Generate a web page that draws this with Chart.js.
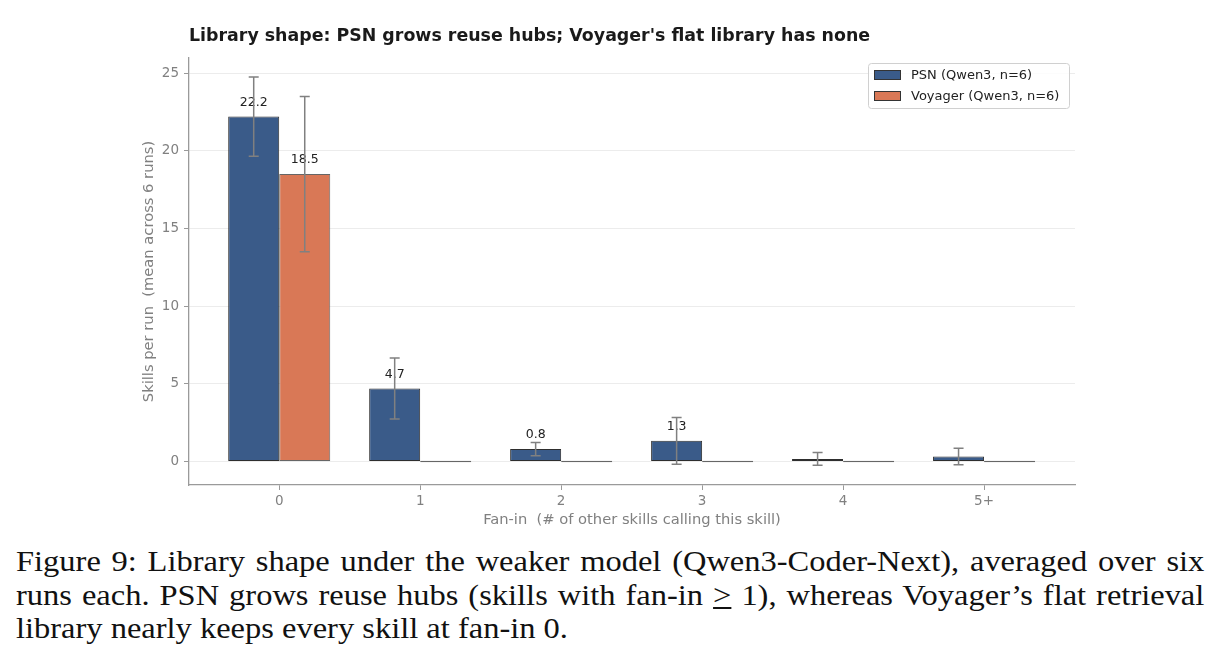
<!DOCTYPE html>
<html>
<head>
<meta charset="utf-8">
<script src="https://cdn.jsdelivr.net/npm/chart.js@4"></script>
<style>
  html, body { margin: 0; padding: 0; background: #fff; }
  #wrap { position: relative; width: 1219px; height: 662px; overflow: hidden; }
  #box { position: absolute; left: 0; top: 0; width: 1219px; height: 535px; }
  #caption {
    position: absolute; left: 16px; top: 545px; width: 1061px;
    transform: scaleX(1.12); transform-origin: 0 0;
    font-family: "Liberation Serif", "DejaVu Serif", serif;
    font-size: 29px; line-height: 33.5px; color: #111;
  }
  #caption .j { text-align: justify; text-align-last: justify; white-space: nowrap; }
</style>
</head>
<body>
<div id="wrap">
  <div id="box"><canvas id="chart"></canvas></div>
  <div id="caption">
    <div class="j">Figure 9: Library shape under the weaker model (Qwen3-Coder-Next), averaged over six</div>
    <div class="j">runs each. PSN grows reuse hubs (skills with fan-in <u>&gt;</u> 1), whereas Voyager’s flat retrieval</div>
    <div>library nearly keeps every skill at fan-in 0.</div>
  </div>
</div>
<script>
// Data
const categories = ['0', '1', '2', '3', '4', '5+'];
const psnValues = [22.2, 4.7, 0.8, 1.33, 0.17, 0.33];
const psnErrors = [2.55, 1.97, 0.42, 1.5, 0.41, 0.53];
const psnLabels = ['22.2', '4.7', '0.8', '1.3', '', ''];
const voyValues = [18.5, 0, 0, 0, 0, 0];
const voyErrors = [5.0, 0, 0, 0, 0, 0];
const voyLabels = ['18.5', '', '', '', '', ''];
const yTicks = [0, 5, 10, 15, 20, 25];

const FONT = '"DejaVu Sans", sans-serif';
const GREY = '#808080';

// title, value labels, error bars, legend
const extras = {
    id: 'extras',
    afterDatasetsDraw(chart) {
        const ctx = chart.ctx;
        const area = chart.chartArea;
        const y = chart.scales.y;
        const sets = [
            { vals: psnValues, labels: psnLabels, errs: psnErrors },
            { vals: voyValues, labels: voyLabels, errs: voyErrors }
        ];
        ctx.save();
        // value labels
        ctx.font = '12.5px ' + FONT;
        ctx.fillStyle = '#222';
        ctx.textAlign = 'center';
        ctx.textBaseline = 'middle';
        sets.forEach((s, di) => {
            chart.getDatasetMeta(di).data.forEach((bar, i) => {
                if (s.labels[i]) ctx.fillText(s.labels[i], bar.x, bar.y - 14);
            });
        });
        // error bars
        ctx.strokeStyle = GREY;
        ctx.lineWidth = 1.5;
        sets.forEach((s, di) => {
            chart.getDatasetMeta(di).data.forEach((bar, i) => {
                const e = s.errs[i];
                if (!e) return;
                const top = y.getPixelForValue(s.vals[i] + e);
                const bot = y.getPixelForValue(s.vals[i] - e);
                ctx.beginPath();
                ctx.moveTo(bar.x, top); ctx.lineTo(bar.x, bot);
                ctx.moveTo(bar.x - 5, top); ctx.lineTo(bar.x + 5, top);
                ctx.moveTo(bar.x - 5, bot); ctx.lineTo(bar.x + 5, bot);
                ctx.stroke();
            });
        });
        // title
        ctx.font = 'bold 17.4px ' + FONT;
        ctx.fillStyle = '#1a1a1a';
        ctx.textAlign = 'left';
        ctx.fillText("Library shape: PSN grows reuse hubs; Voyager's flat library has none", area.left, 36);
        // legend box
        const lx = 868, ly = 63, lw = 201, lh = 45;
        ctx.fillStyle = 'rgba(255,255,255,0.85)';
        ctx.strokeStyle = '#d0d0d0';
        ctx.lineWidth = 1;
        ctx.beginPath();
        ctx.roundRect(lx + 0.5, ly + 0.5, lw, lh, 3);
        ctx.fill();
        ctx.stroke();
        ctx.font = '13px ' + FONT;
        chart.data.datasets.forEach((ds, i) => {
            const ry = ly + 12 + i * 21;
            ctx.fillStyle = ds.backgroundColor;
            ctx.fillRect(lx + 6, ry - 5, 27, 10);
            ctx.strokeStyle = '#333';
            ctx.strokeRect(lx + 6.5, ry - 4.5, 26, 9);
            ctx.fillStyle = '#222';
            ctx.textBaseline = 'middle';
            ctx.fillText(ds.label, lx + 43, ry + 1);
        });
        ctx.restore();
    }
};

new Chart(document.getElementById('chart'), {
    type: 'bar',
    data: {
        labels: categories,
        datasets: [{
            label: 'PSN (Qwen3, n=6)',
            data: psnValues.map((v, i) => ({ x: i, y: v })),
            backgroundColor: '#3a5b89',
            borderColor: '#2e2e2e',
            borderWidth: 1,
            minBarLength: 1.5
        }, {
            label: 'Voyager (Qwen3, n=6)',
            data: voyValues.map((v, i) => ({ x: i, y: v })),
            backgroundColor: '#d97856',
            borderColor: '#666',
            borderWidth: 1,
            minBarLength: 1.5
        }]
    },
    options: {
        responsive: true,
        maintainAspectRatio: false,
        animation: false,
        layout: { padding: { left: 132, right: 144, top: 58, bottom: 6 } },
        datasets: { bar: { categoryPercentage: 0.724, barPercentage: 1.0, borderSkipped: false } },
        plugins: { legend: { display: false }, tooltip: { enabled: false } },
        scales: {
            x: {
                type: 'linear',
                min: -0.64,
                max: 5.645,
                offset: false,
                afterBuildTicks: s => { s.ticks = categories.map((c, i) => ({ value: i })); },
                afterFit: s => { s.height = 44; },
                ticks: {
                    callback: v => categories[v],
                    color: GREY,
                    font: { family: FONT, size: 13.5 },
                    padding: 3,
                    maxRotation: 0
                },
                grid: { offset: false, drawOnChartArea: false, drawTicks: true, tickLength: 5, tickColor: '#999' },
                border: { color: '#9a9a9a', width: 1.3 },
                title: {
                    display: true,
                    text: 'Fan-in  (# of other skills calling this skill)',
                    color: GREY,
                    font: { family: FONT, size: 14.7 },
                    padding: 0
                }
            },
            y: {
                min: -1.51,
                max: 25.97,
                afterBuildTicks: s => { s.ticks = yTicks.map(v => ({ value: v })); },
                afterFit: s => { s.width = 57; },
                ticks: {
                    color: GREY,
                    font: { family: FONT, size: 13.5 },
                    padding: 5
                },
                grid: { color: '#ececec', lineWidth: 1, tickLength: 5, tickColor: '#999' },
                border: { color: '#9a9a9a', width: 1.3 },
                title: {
                    display: true,
                    text: 'Skills per run  (mean across 6 runs)',
                    color: GREY,
                    font: { family: FONT, size: 14.7 },
                    padding: { top: 8, bottom: 0 }
                }
            }
        }
    },
    plugins: [extras]
});
</script>
</body>
</html>
